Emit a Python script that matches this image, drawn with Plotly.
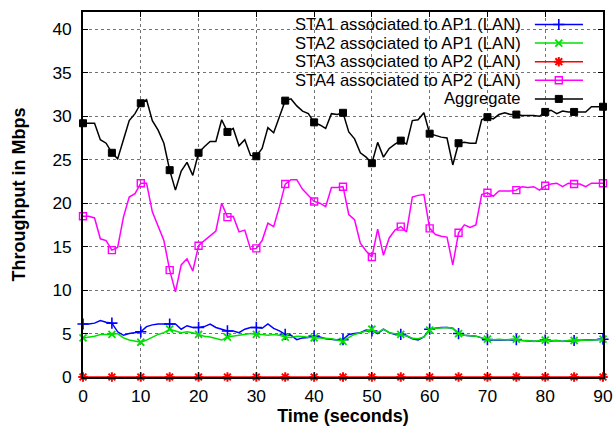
import plotly.graph_objects as go

# ---------------- data ----------------
time_s = list(range(0, 91))

sta1 = [6.1, 6.1, 6.2, 6.5, 6.3, 6.2, 5.2, 4.8, 5.0, 5.1,
        5.2, 5.8, 6.0, 6.1, 6.1, 6.1, 6.1, 5.5, 5.9, 5.7,
        5.7, 5.8, 6.1, 5.7, 5.5, 5.3, 5.3, 5.1, 5.5, 5.7,
        5.7, 5.6, 6.1, 5.6, 5.3, 4.9, 4.8, 4.3, 4.5, 4.55,
        4.7, 4.6, 4.4, 4.3, 4.25, 4.3, 4.9, 5.0, 5.1, 5.4,
        5.3, 5.0, 5.5, 5.1, 4.9, 4.9, 4.75, 4.4, 4.25, 4.6,
        5.5, 5.6, 5.7, 5.7, 5.6, 5.0, 4.8, 4.75, 4.7, 4.5,
        4.3, 4.25, 4.3, 4.25, 4.3, 4.3, 4.2, 4.15, 4.1, 4.15,
        4.25, 4.15, 4.2, 4.1, 4.15, 4.2, 4.2, 4.25, 4.25, 4.3,
        4.35]

sta2 = [4.5, 4.6, 4.7, 4.9, 4.9, 4.9, 5.0, 4.5, 4.25, 4.1,
        4.0, 4.25, 4.6, 4.9, 5.1, 5.5, 5.3, 5.1, 5.2, 5.1,
        4.9, 4.7, 4.6, 4.45, 4.25, 4.6, 4.7, 4.8, 4.9, 5.0,
        4.9, 4.9, 4.8, 4.9, 4.8, 4.6, 4.55, 4.7, 4.65, 4.55,
        4.5, 4.5, 4.45, 4.4, 4.25, 4.1, 4.55, 4.9, 5.1, 5.3,
        5.5, 5.1, 5.5, 5.1, 5.0, 4.9, 4.75, 4.45, 4.4, 4.6,
        5.4, 5.6, 5.65, 5.7, 5.6, 5.0, 4.8, 4.75, 4.7, 4.5,
        4.35, 4.3, 4.35, 4.3, 4.35, 4.35, 4.2, 4.2, 4.1, 4.2,
        4.25, 4.2, 4.2, 4.1, 4.2, 4.2, 4.2, 4.25, 4.25, 4.3,
        4.35]

sta3 = [0, 0, 0, 0, 0, 0, 0, 0, 0, 0,
        0, 0, 0, 0, 0, 0, 0, 0, 0, 0,
        0, 0, 0, 0, 0, 0, 0, 0, 0, 0,
        0, 0, 0, 0, 0, 0, 0, 0, 0, 0,
        0, 0, 0, 0, 0, 0, 0, 0, 0, 0,
        0, 0, 0, 0, 0, 0, 0, 0, 0, 0,
        0, 0, 0, 0, 0, 0, 0, 0, 0, 0,
        0, 0, 0, 0, 0, 0, 0, 0, 0, 0,
        0, 0, 0, 0, 0, 0, 0, 0, 0, 0,
        0]

sta4 = [18.5, 18.5, 18.3, 15.9, 15.7, 14.6, 14.9, 18.4, 20.7, 21.1,
        22.3, 22.3, 19.0, 17.3, 15.7, 12.3, 9.8, 12.9, 13.6, 12.2,
        15.1, 15.7, 16.3, 16.8, 20.0, 18.4, 18.5, 16.7, 16.9, 14.7,
        14.8, 15.7, 17.7, 17.3, 19.6, 22.2, 22.7, 22.7, 21.6, 20.9,
        20.2, 20.0, 19.6, 21.8, 21.8, 21.9, 18.7, 18.1, 15.4, 14.5,
        13.8, 17.0, 14.0, 16.0, 16.9, 17.3, 16.7, 20.7, 20.9, 21.0,
        17.1, 16.4, 16.2, 16.1, 12.9, 16.6, 17.5, 17.2, 17.5, 21.0,
        21.2, 20.8, 21.4, 21.4, 21.4, 21.5, 21.9, 21.8, 21.9, 21.5,
        22.0, 22.2, 22.3, 21.9, 22.3, 22.2, 22.2, 21.9, 22.3, 22.3,
        22.3]

aggregate = [29.2, 29.2, 29.2, 27.3, 26.9, 25.8, 25.1, 27.3, 29.5, 30.3,
             31.5, 31.9, 29.5, 28.4, 26.9, 23.8, 21.5, 23.7, 24.7, 23.2,
             25.8, 26.5, 27.1, 27.1, 29.6, 28.2, 28.6, 26.6, 27.3, 25.5,
             25.4, 26.3, 28.7, 28.1, 29.9, 31.8, 32.0, 31.2, 30.6, 30.3,
             29.3, 29.0, 28.6, 30.3, 30.2, 30.4, 28.2, 27.4, 25.8, 25.3,
             24.6, 27.0, 25.3, 26.3, 26.8, 27.2, 26.8, 29.5, 29.6, 30.4,
             28.0, 27.8, 27.6, 27.5, 24.4, 26.9, 27.0, 26.9, 26.9, 29.6,
             29.9, 29.7, 30.2, 30.4, 30.2, 30.2, 30.1, 30.1, 30.1, 30.0,
             30.5, 30.7, 30.3, 30.6, 30.5, 30.5, 30.5, 30.5, 31.1, 31.1,
             31.1]

series_names = ["STA1 associated to AP1 (LAN)",
                "STA2 associated to AP1 (LAN)",
                "STA3 associated to AP2 (LAN)",
                "STA4 associated to AP2 (LAN)",
                "Aggregate"]

x_ticks = [0, 10, 20, 30, 40, 50, 60, 70, 80, 90]
y_ticks = [0, 5, 10, 15, 20, 25, 30, 35, 40]

# ---------------- styles ----------------
FONT = "Liberation Sans, Arial, Helvetica, sans-serif"
TXT = 17.4
KEY_TXT = 16.6
styles = [
    dict(color="#0000ff", symbol="cross-thin-open", size=8, lw=1.6),
    dict(color="#00e000", symbol="x-thin-open", size=7, lw=1.8),
    dict(color="#ff0000", symbol="asterisk-open", size=8, lw=2.0),
    dict(color="#ff00ff", symbol="square-open", size=7, lw=1.4),
    dict(color="#000000", symbol="square", size=7, lw=1.0),
]
MARK_EVERY = 5

fig = go.Figure()
all_series = [sta1, sta2, sta3, sta4, aggregate]
for name, ys, st in zip(series_names, all_series, styles):
    fig.add_trace(go.Scatter(
        x=time_s, y=ys, mode="lines", name=name, showlegend=False,
        line=dict(color=st["color"], width=1.5), cliponaxis=False,
        hoverinfo="skip"))
    fig.add_trace(go.Scatter(
        x=time_s[::MARK_EVERY], y=ys[::MARK_EVERY], mode="markers",
        name=name, showlegend=False, cliponaxis=False,
        marker=dict(color=st["color"], symbol=st["symbol"], size=st["size"],
                    line=dict(color=st["color"], width=st["lw"]))))

# ---------------- gnuplot-style key (text first, then sample) ----------------
key_rows = [0.9658, 0.9148, 0.8638, 0.8129, 0.7619]
key_text_x = 0.844
key_line_x = [0.869, 0.9615]
key_mark_x = 0.915
for name, st, yk in zip(series_names, styles, key_rows):
    fig.add_trace(go.Scatter(
        x=key_line_x, y=[yk, yk], xaxis="x2", yaxis="y2", mode="lines",
        line=dict(color=st["color"], width=1.5), showlegend=False,
        hoverinfo="skip"))
    fig.add_trace(go.Scatter(
        x=[key_mark_x], y=[yk], xaxis="x2", yaxis="y2", mode="markers",
        marker=dict(color=st["color"], symbol=st["symbol"], size=st["size"],
                    line=dict(color=st["color"], width=st["lw"])),
        showlegend=False, hoverinfo="skip"))
    fig.add_annotation(x=key_text_x, y=yk, xref="paper", yref="paper",
                       text=name, showarrow=False, xanchor="right",
                       yanchor="middle", borderpad=0,
                       font=dict(family=FONT, size=KEY_TXT, color="#000"))

# opaque key area hides the grid (drawn between grid and traces)
fig.add_shape(type="rect", xref="paper", yref="paper",
              x0=0.375, x1=0.98, y0=0.742, y1=1.0,
              fillcolor="white", line=dict(width=0), layer="between")

axis_common = dict(
    showline=True, linecolor="black", linewidth=1.5, mirror="allticks",
    ticks="inside", ticklen=5, tickwidth=1, tickcolor="black",
    showgrid=True, gridcolor="rgba(0,0,0,0.55)", griddash="dot",
    gridwidth=1, zeroline=False,
    tickfont=dict(family=FONT, size=TXT, color="#000"),
)

fig.update_layout(
    width=616, height=430,
    margin=dict(l=83, r=13, t=12, b=53, autoexpand=False),
    paper_bgcolor="white", plot_bgcolor="white",
    xaxis=dict(range=[0, 90], tickvals=x_ticks, **axis_common,
               ticklabelstandoff=2,
               title=dict(text="<b>Time (seconds)</b>", standoff=4,
                          font=dict(family=FONT, size=18, color="#000"))),
    yaxis=dict(range=[0, 42], tickvals=y_ticks, **axis_common,
               ticklabelstandoff=6,
               title=dict(text="<b>Throughput in Mbps</b>", standoff=22,
                          font=dict(family=FONT, size=18, color="#000"))),
    xaxis2=dict(overlaying="x", range=[0, 1], visible=False),
    yaxis2=dict(overlaying="y", range=[0, 1], visible=False),
    showlegend=False,
)

fig.write_html("out.html",
               config={"displayModeBar": False},
               post_script="document.body.style.margin='0px';"
                           "document.body.style.padding='0px';")
